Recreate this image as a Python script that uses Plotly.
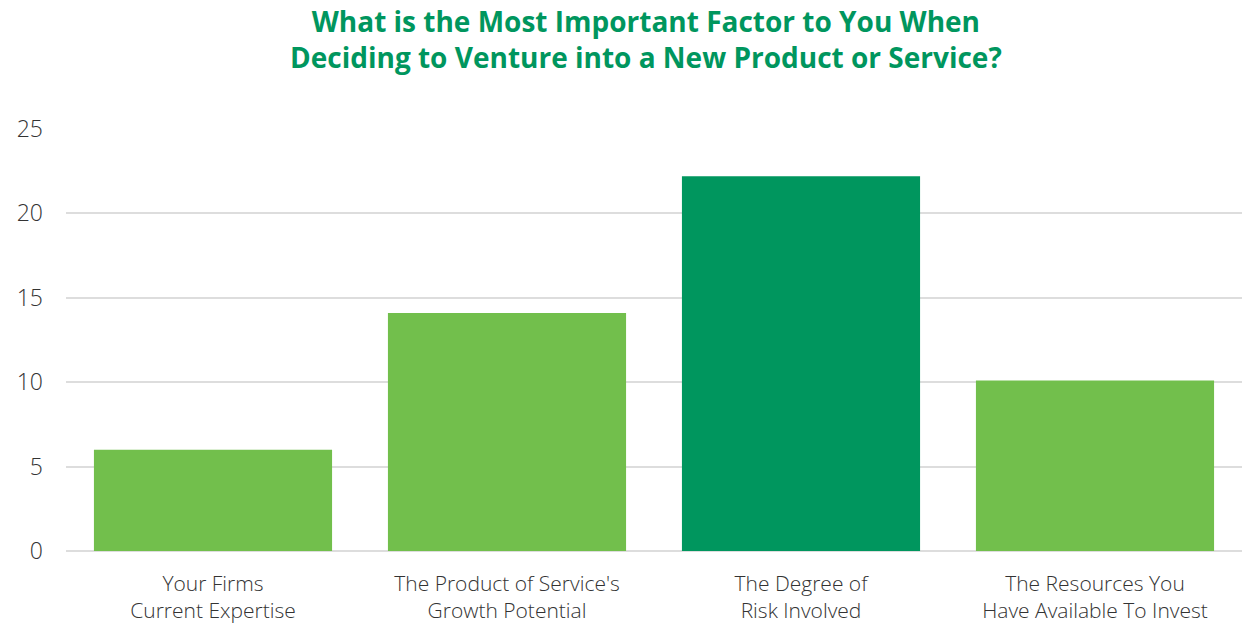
import plotly.graph_objects as go

categories = ["Your Firms<br>Current Expertise",
              "The Product of Service's<br>Growth Potential",
              "The Degree of<br>Risk Involved",
              "The Resources You<br>Have Available To Invest"]
values = [6, 14.1, 22.2, 10.1]
bar_colors = ["#72BF4C", "#72BF4C", "#00965E", "#72BF4C"]
y_ticks = [0, 5, 10, 15, 20, 25]
title_text = "What is the Most Important Factor to You When<br>Deciding to Venture into a New Product or Service?"

fig = go.Figure(go.Bar(x=categories, y=values, marker=dict(color=bar_colors, line=dict(width=0)),
                       hoverinfo="skip"))

plot_top, plot_bottom = 129, 551

fig.update_layout(
    width=1246, height=627,
    paper_bgcolor="white", plot_bgcolor="white",
    margin=dict(l=66, r=4, t=plot_top, b=627 - plot_bottom),
    bargap=0.19,
    showlegend=False,
    font=dict(family="Open Sans", color="#333333"),
    annotations=[dict(
        text=title_text, xref="paper", yref="paper", x=0.4935,
        y=(plot_bottom - 39) / (plot_bottom - plot_top), xanchor="center", yanchor="middle",
        showarrow=False, align="center",
        font=dict(family="Open Sans", size=28, color="#00965E", weight="bold"),
    )],
)
fig.update_yaxes(range=[0, 25], tickvals=y_ticks, showgrid=True, gridcolor="#DDDDDD", gridwidth=1.5,
                 zeroline=True, zerolinecolor="#DDDDDD", zerolinewidth=1.5,
                 tickfont=dict(family="Open Sans", size=23, color="#333333", weight=300), ticks="",
                 ticklabelstandoff=22, fixedrange=True, automargin=False)
fig.update_xaxes(showgrid=False, tickfont=dict(family="Open Sans", size=21, color="#333333", weight=300),
                 ticks="", ticklabelstandoff=18, fixedrange=True, showline=False, automargin=False)

fig.write_html("out.html", config={"displayModeBar": False})
